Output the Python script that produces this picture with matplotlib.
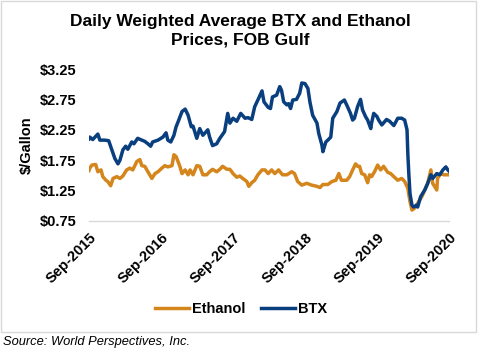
import matplotlib
matplotlib.use("Agg")
import matplotlib.pyplot as plt
import matplotlib.dates as mdates
import matplotlib.transforms as mtrans
import pandas as pd
from matplotlib.patches import Rectangle

plt.rcParams['font.family'] = ['Liberation Sans', 'DejaVu Sans']

btx_dates = [
    "2015-09-01", "2015-09-05", "2015-09-20", "2015-10-16", "2015-10-26", "2015-11-20", "2015-12-10",
    "2015-12-26", "2016-01-10", "2016-01-26", "2016-02-05", "2016-02-20", "2016-03-05",
    "2016-03-16", "2016-04-05", "2016-04-16", "2016-05-05", "2016-05-26", "2016-06-10",
    "2016-06-26", "2016-07-10", "2016-07-20", "2016-08-16", "2016-09-10", "2016-09-26",
    "2016-10-05", "2016-10-20", "2016-11-05", "2016-11-16", "2016-11-26", "2016-12-16",
    "2017-01-01", "2017-01-16", "2017-02-01", "2017-02-10", "2017-03-01", "2017-03-16",
    "2017-04-01", "2017-04-26", "2017-05-05", "2017-05-20", "2017-06-10", "2017-06-26",
    "2017-07-20", "2017-08-05", "2017-08-16", "2017-09-01", "2017-09-20", "2017-10-10",
    "2017-11-01", "2017-11-16", "2017-12-05", "2017-12-20", "2018-01-05", "2018-01-26",
    "2018-02-05", "2018-02-26", "2018-03-10", "2018-03-20", "2018-04-10", "2018-04-26",
    "2018-05-05", "2018-05-16", "2018-06-01", "2018-06-10", "2018-06-20", "2018-07-01",
    "2018-07-20", "2018-08-05", "2018-08-16", "2018-09-01", "2018-09-16", "2018-09-26",
    "2018-10-10", "2018-11-01", "2018-11-10", "2018-11-26", "2018-12-01", "2018-12-16",
    "2018-12-26", "2019-01-10", "2019-01-20", "2019-02-10", "2019-02-26", "2019-03-20",
    "2019-04-05", "2019-04-20", "2019-05-01", "2019-05-10", "2019-05-26", "2019-06-10",
    "2019-06-20", "2019-07-05", "2019-07-16", "2019-08-01", "2019-08-05", "2019-08-16",
    "2019-09-01", "2019-09-10", "2019-09-26", "2019-10-20", "2019-11-05", "2019-11-26",
    "2019-12-16", "2020-01-05", "2020-01-20", "2020-02-01", "2020-02-05", "2020-02-10",
    "2020-02-16", "2020-02-26", "2020-03-05", "2020-03-20", "2020-03-26", "2020-04-10",
    "2020-05-01", "2020-05-16", "2020-06-01", "2020-06-10", "2020-07-01", "2020-07-16",
    "2020-08-01", "2020-08-16", "2020-08-26", "2020-09-01",
]
btx_values = [
    2.10, 2.13, 2.09, 2.18, 2.08, 2.08, 2.07,
    1.92, 1.78, 1.69, 1.75, 1.92, 1.98,
    1.93, 2.05, 2.02, 2.11, 2.08, 2.06,
    2.02, 1.98, 2.05, 2.08, 2.13, 2.20,
    2.08, 2.05, 2.16, 2.30, 2.38, 2.55,
    2.59, 2.49, 2.30, 2.31, 2.11, 2.27,
    2.16, 2.25, 2.13, 1.99, 2.02, 2.11,
    2.22, 2.52, 2.36, 2.44, 2.39, 2.52,
    2.44, 2.45, 2.42, 2.63, 2.74, 2.89,
    2.71, 2.62, 2.60, 2.79, 2.82, 2.96,
    2.90, 2.71, 2.66, 2.68, 2.60, 2.74,
    2.75, 2.85, 3.02, 3.01, 2.93, 2.71,
    2.49, 2.36, 2.19, 2.00, 1.89, 2.05,
    2.08, 2.13, 2.44, 2.55, 2.69, 2.74,
    2.63, 2.52, 2.41, 2.44, 2.63, 2.75,
    2.58, 2.47, 2.41, 2.27, 2.36, 2.52,
    2.47, 2.41, 2.33, 2.42, 2.39, 2.32,
    2.44, 2.44, 2.41, 2.25, 1.86, 1.53,
    1.20, 1.01, 0.98, 1.01, 0.98, 1.15,
    1.26, 1.37, 1.51, 1.45, 1.53, 1.51,
    1.59, 1.64, 1.59, 1.57,
]

eth_dates = [
    "2015-09-01", "2015-09-05", "2015-09-16", "2015-10-05", "2015-10-16", "2015-11-01", "2015-11-10",
    "2015-11-26", "2015-12-05", "2015-12-20", "2016-01-01", "2016-01-20", "2016-02-05",
    "2016-02-20", "2016-03-10", "2016-03-26", "2016-04-10", "2016-05-01", "2016-05-16",
    "2016-05-26", "2016-06-10", "2016-06-26", "2016-07-16", "2016-08-01", "2016-08-16",
    "2016-09-05", "2016-09-20", "2016-10-05", "2016-10-26", "2016-11-05", "2016-11-16",
    "2016-12-05", "2016-12-16", "2017-01-01", "2017-01-16", "2017-01-26", "2017-02-10",
    "2017-03-01", "2017-03-16", "2017-04-01", "2017-04-20", "2017-05-05", "2017-05-20",
    "2017-06-10", "2017-06-26", "2017-07-10", "2017-08-01", "2017-08-16", "2017-09-01",
    "2017-09-20", "2017-10-05", "2017-10-20", "2017-11-10", "2017-11-20", "2017-12-05",
    "2017-12-20", "2018-01-05", "2018-01-26", "2018-02-10", "2018-02-26", "2018-03-16",
    "2018-04-01", "2018-04-20", "2018-05-10", "2018-06-01", "2018-06-26", "2018-07-10",
    "2018-07-26", "2018-08-16", "2018-09-10", "2018-10-05", "2018-11-01", "2018-11-16",
    "2018-12-01", "2018-12-26", "2019-01-16", "2019-02-05", "2019-02-20", "2019-03-05",
    "2019-04-01", "2019-04-16", "2019-05-01", "2019-05-16", "2019-05-26", "2019-06-05",
    "2019-06-16", "2019-07-01", "2019-07-16", "2019-07-26", "2019-08-05", "2019-08-20",
    "2019-09-05", "2019-09-20", "2019-10-05", "2019-10-26", "2019-11-10", "2019-11-26",
    "2019-12-16", "2020-01-05", "2020-01-20", "2020-02-05", "2020-02-16", "2020-02-26",
    "2020-03-10", "2020-03-26", "2020-04-16", "2020-05-01", "2020-05-16", "2020-06-01",
    "2020-06-10", "2020-07-01", "2020-07-05", "2020-07-20", "2020-08-05", "2020-08-20",
    "2020-09-01",
]
eth_values = [
    1.58, 1.62, 1.67, 1.68, 1.56, 1.59, 1.48,
    1.42, 1.40, 1.33, 1.45, 1.48, 1.45,
    1.49, 1.59, 1.62, 1.59, 1.73, 1.76,
    1.66, 1.65, 1.56, 1.45, 1.53, 1.56,
    1.62, 1.66, 1.64, 1.66, 1.84, 1.81,
    1.65, 1.53, 1.59, 1.51, 1.59, 1.51,
    1.66, 1.65, 1.51, 1.51, 1.56, 1.60,
    1.56, 1.60, 1.65, 1.60, 1.60, 1.53,
    1.47, 1.49, 1.45, 1.40, 1.32, 1.38,
    1.42, 1.51, 1.59, 1.59, 1.53, 1.59,
    1.53, 1.59, 1.51, 1.51, 1.56, 1.53,
    1.40, 1.34, 1.37, 1.34, 1.32, 1.30,
    1.35, 1.35, 1.40, 1.42, 1.53, 1.42,
    1.42, 1.48, 1.59, 1.69, 1.65, 1.65,
    1.53, 1.51, 1.38, 1.51, 1.48, 1.56,
    1.67, 1.59, 1.65, 1.55, 1.53, 1.48,
    1.42, 1.45, 1.40, 1.29, 1.07, 0.93,
    0.96, 1.04, 1.15, 1.26, 1.37, 1.59,
    1.37, 1.26, 1.45, 1.53, 1.51, 1.51,
    1.51,
]

tick_dates = ["2015-09-01", "2016-09-01", "2017-09-01", "2018-09-01", "2019-09-01", "2020-09-01"]
tick_labels = ["Sep-2015", "Sep-2016", "Sep-2017", "Sep-2018", "Sep-2019", "Sep-2020"]
y_ticks = [0.75, 1.25, 1.75, 2.25, 2.75, 3.25]
y_labels = ["$0.75", "$1.25", "$1.75", "$2.25", "$2.75", "$3.25"]

ETH_COLOR = "#D4851C"
BTX_COLOR = "#0A3F7F"

W, H = 479, 349
fig = plt.figure(figsize=(W / 100, H / 100), dpi=100)
ax = fig.add_axes([89 / W, 1 - 221 / H, 360 / W, 152 / H])

ax.plot(pd.to_datetime(eth_dates), eth_values, color=ETH_COLOR, lw=2.5, label="Ethanol",
        solid_joinstyle="round")
ax.plot(pd.to_datetime(btx_dates), btx_values, color=BTX_COLOR, lw=2.5, label="BTX",
        solid_joinstyle="round")

ax.set_xlim(pd.Timestamp(tick_dates[0]), pd.Timestamp(tick_dates[-1]))
ax.set_ylim(0.75, 3.25)
ax.set_yticks(y_ticks)
ax.set_yticklabels(y_labels, fontsize=10.5, fontweight="bold")
ax.set_xticks(pd.to_datetime(tick_dates))
ax.set_xticklabels(tick_labels, rotation=45, ha="right", rotation_mode="anchor",
                   fontsize=10.5, fontweight="bold")
offset = mtrans.ScaledTranslation(-4 / 100, 0, fig.dpi_scale_trans)
for lab in ax.get_xticklabels():
    lab.set_transform(lab.get_transform() + offset)
ax.tick_params(axis="both", length=0)
ax.tick_params(axis="y", pad=9)
ax.tick_params(axis="x", pad=7)
for s in ["top", "right", "left"]:
    ax.spines[s].set_visible(False)
ax.spines["bottom"].set_color("#D9D9D9")
ax.spines["bottom"].set_linewidth(1.0)

ax.set_ylabel("$/Gallon", fontsize=10.5, fontweight="bold")
ax.yaxis.set_label_coords((34 - 89) / 360, 0.5)

fig.text(240 / W, 1 - 31 / H, "Daily Weighted Average BTX and Ethanol\nPrices, FOB Gulf",
         ha="center", va="center", fontsize=12.5, fontweight="bold", linespacing=1.3)

leg = fig.legend(loc="center", bbox_to_anchor=(241 / W, 1 - 309 / H), ncol=2, frameon=False,
                 prop={"weight": "bold", "size": 10.5}, handlelength=2.3, handletextpad=0.2,
                 columnspacing=1.1)

fig.text(3 / W, 1 - 342 / H, "Source: World Perspectives, Inc.", ha="left", va="center",
         fontsize=9.3, style="italic")

fig.patches.append(Rectangle((0.5 / W, 1 - 332 / H), 475 / W, 331.5 / H, transform=fig.transFigure,
                             fill=False, edgecolor="#D9D9D9", lw=1.0))

fig.savefig("out.png", dpi=100)
